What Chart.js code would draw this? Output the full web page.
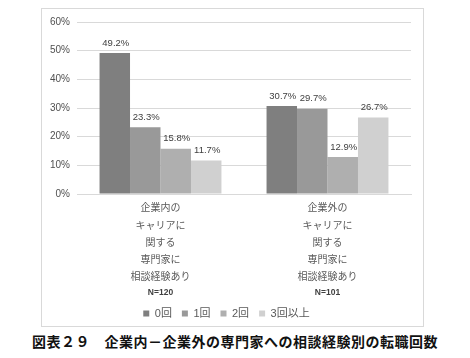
<!DOCTYPE html>
<html>
<head>
<meta charset="utf-8">
<script src="https://cdn.jsdelivr.net/npm/chart.js@4"></script>
<style>
  body { margin: 0; background: #fff; width: 470px; height: 358px; position: relative; overflow: hidden; }
  #box { position: absolute; left: 41px; top: 8px; width: 381px; height: 317px; border: 1px solid #d9d9d9; }
  #chart { position: absolute; left: 42px; top: 9px; }
  #caption { position: absolute; left: 0; top: 331px; width: 470px; text-align: center; letter-spacing: 0.5px;
    font-family: "Noto Sans CJK JP", sans-serif; font-weight: bold; font-size: 14px; color: #111; }
</style>
</head>
<body>
<div id="box"></div>
<canvas id="chart" width="381" height="320"></canvas>
<div id="caption">図表２９　企業内－企業外の専門家への相談経験別の転職回数</div>
<script>
// ===============================
// data
// ===============================
const categories = [
    ["企業内の", "キャリアに", "関する", "専門家に", "相談経験あり"],
    ["企業外の", "キャリアに", "関する", "専門家に", "相談経験あり"]
];
const sampleSizes = ["N=120", "N=101"];
const seriesNames = ["0回", "1回", "2回", "3回以上"];
const zeroTimes = [49.2, 30.7];
const oneTime = [23.3, 29.7];
const twoTimes = [15.8, 12.9];
const threePlus = [11.7, 26.7];
const yTicks = [0, 10, 20, 30, 40, 50, 60];

const barColors = ["#7f7f7f", "#999999", "#afafaf", "#d0d0d0"];
const cjk = "'Liberation Sans', 'Noto Sans CJK JP', sans-serif";

// value labels above bars
const valueLabels = {
    id: "valueLabels",
    afterDatasetsDraw(chart) {
        const ctx = chart.ctx;
        ctx.save();
        ctx.font = "9.5px " + cjk;
        ctx.fillStyle = "#404040";
        ctx.textAlign = "center";
        ctx.textBaseline = "middle";
        chart.data.datasets.forEach((ds, i) => {
            chart.getDatasetMeta(i).data.forEach((bar, j) => {
                ctx.fillText(ds.data[j].toFixed(1) + "%", bar.x + 1, bar.y - 10);
            });
        });
        ctx.restore();
    }
};

// bold N= line under each category label
const sampleLine = {
    id: "sampleLine",
    afterDraw(chart) {
        const ctx = chart.ctx;
        const x = chart.scales.x;
        ctx.save();
        ctx.font = "bold 8.5px " + cjk;
        ctx.fillStyle = "#404040";
        ctx.textAlign = "center";
        ctx.textBaseline = "middle";
        sampleSizes.forEach((s, i) => {
            ctx.fillText(s, x.getPixelForTick(i), chart.chartArea.bottom + 99);
        });
        ctx.restore();
    }
};

new Chart(document.getElementById("chart"), {
    type: "bar",
    data: {
        labels: categories,
        datasets: [
            { label: seriesNames[0], data: zeroTimes, backgroundColor: barColors[0] },
            { label: seriesNames[1], data: oneTime, backgroundColor: barColors[1] },
            { label: seriesNames[2], data: twoTimes, backgroundColor: barColors[2] },
            { label: seriesNames[3], data: threePlus, backgroundColor: barColors[3] }
        ]
    },
    options: {
        responsive: false,
        animation: false,
        categoryPercentage: 0.73,
        barPercentage: 1,
        layout: { padding: { top: 11, right: 12, left: 0, bottom: 0 } },
        plugins: {
            legend: {
                position: "bottom",
                labels: {
                    boxWidth: 6,
                    boxHeight: 6,
                    padding: 10,
                    color: "#595959",
                    font: { family: cjk, size: 11 }
                }
            },
            tooltip: { enabled: false }
        },
        scales: {
            x: {
                grid: { display: false },
                border: { display: true, color: "#d9d9d9" },
                ticks: {
                    color: "#595959",
                    padding: -2,
                    maxRotation: 0,
                    font: { family: cjk, size: 10, lineHeight: 1.72 }
                },
                afterFit(scale) { scale.height = 104; }
            },
            y: {
                min: 0,
                max: 60,
                afterBuildTicks(scale) { scale.ticks = yTicks.map(v => ({ value: v })); },
                grid: { color: "#d9d9d9", drawTicks: false },
                border: { display: false },
                ticks: {
                    color: "#505050",
                    padding: 7,
                    font: { family: cjk, size: 10 },
                    callback: v => v + "%"
                },
                afterFit(scale) { scale.width = 35; }
            }
        }
    },
    plugins: [valueLabels, sampleLine]
});
</script>
</body>
</html>
